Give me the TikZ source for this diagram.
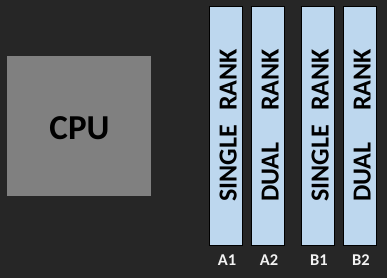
\documentclass[tikz,border=0pt]{standalone}
\usepackage{fontspec}
\setmainfont{Carlito}
\definecolor{bg}{HTML}{262626}
\definecolor{cpugray}{HTML}{808080}
\definecolor{dimmblue}{HTML}{BDD7EE}
\definecolor{lbl}{HTML}{F2F2F2}
\tikzset{
  dimm/.style={draw=black, line width=1pt, fill=dimmblue, minimum width=33pt, minimum height=239pt, inner sep=0pt},
  cpubox/.style={fill=cpugray, minimum width=144pt, minimum height=140pt, inner sep=0pt},
  ranktxt/.style={rotate=90, inner sep=0pt, font=\fontsize{26}{26}\selectfont\bfseries, text=black},
  slotlbl/.style={anchor=base, inner sep=0pt, font=\fontsize{16.5}{16.5}\selectfont\bfseries, text=lbl},
  cputxt/.style={anchor=base, inner sep=0pt, font=\fontsize{35}{35}\selectfont\bfseries, text=black}
}
\begin{document}
\begin{tikzpicture}[x=1pt,y=-1pt]
\fill[bg] (0,0) rectangle (387,278);
\useasboundingbox (0,0) rectangle (387,278);
\node[cpubox] (cpu) at (79,126) {};
\node[cputxt] (cpul) at (79.5,139.3) {CPU};
\foreach \n/\x/\w in {A1/226.3/SINGLE, A2/268.3/DUAL, B1/318.3/SINGLE, B2/360.3/DUAL}{
  \node[dimm] (d\n) at (\x,126.3) {};
  \node[ranktxt, anchor=base west] (w\n) at (\x+10.4,202) {\w};
  \node[ranktxt, anchor=base east] (r\n) at (\x+10.4,49) {RANK};
  \node[slotlbl] (l\n) at (\x+0.7,265) {\n};
}
\end{tikzpicture}
\end{document}
